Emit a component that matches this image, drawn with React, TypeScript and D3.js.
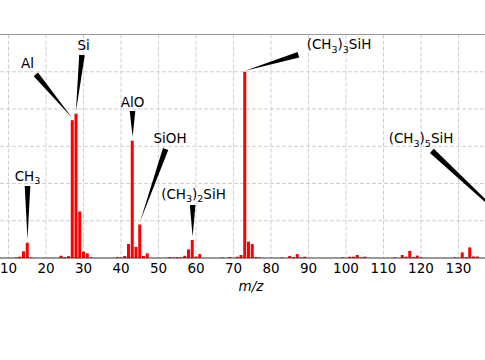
import React from 'react';
import * as d3 from 'd3';

const W = 485;
const H = 360;

// peaks: m/z and relative intensity (%)
const mz = [12, 13, 14, 15, 16, 24, 25, 26, 27, 28, 29, 30, 31, 32, 39, 40, 41, 42, 43, 44, 45, 46, 47,
  53, 54, 55, 56, 57, 58, 59, 60, 61, 67, 69, 71, 72, 73, 74, 75, 76, 77, 83, 85, 86, 87, 88, 89,
  99, 101, 102, 103, 104, 105, 113, 115, 116, 117, 118, 119, 120, 129, 131, 132, 133, 134, 135, 147];
const intensity = [0.3, 0.7, 3.6, 8.2, 0.3, 1.2, 0.5, 1.0, 74, 77.5, 25, 3.4, 2.5, 0.3, 0.5, 0.3, 1.1, 7.5, 63, 6, 18, 1.1, 2.5,
  0.5, 0.3, 0.5, 0.3, 1.2, 4.6, 9.7, 0.8, 2.1, 0.3, 0.5, 0.7, 1.6, 100, 8.8, 7.5, 0.5, 0.3, 0.3, 1.1, 0.5, 2.1, 0.3, 0.7,
  0.3, 0.7, 0.7, 1.6, 0.3, 0.7, 0.3, 1.6, 0.7, 3.8, 0.5, 1.3, 0.3, 0.3, 3.0, 0.5, 5.7, 0.8, 0.8, 11];

const xTicks = [10, 20, 30, 40, 50, 60, 70, 80, 90, 100, 110, 120, 130];
const yGrid = [20, 40, 60, 80, 100];

// annotations: label ("_n" = subscript), text pos, arrow tail, arrow tip (m/z, %)
const annLabels = ['CH_3', 'Al', 'Si', 'AlO', 'SiOH', '(CH_3)_2SiH', '(CH_3)_3SiH', '(CH_3)_5SiH'];
const annText = [[15.07, 41.6], [15.07, 102], [30.05, 111.7], [43.07, 81.3], [53.07, 61.6], [59.33, 31.7], [98.13, 112.1], [120, 61.6]];
const annTail = [[15.07, 38.7], [17.3, 98.6], [29.6, 109], [43.07, 78.9], [51.9, 58.5], [59.1, 28.5], [87.3, 109.1], [122.9, 57.5]];
const annTip = [[15.07, 9.8], [26.9, 75.5], [27.97, 78.5], [43.1, 65.1], [45.07, 19.5], [59.1, 11.4], [73.1, 100.5], [147, 12.3]];

const FONT = 'DejaVu Sans, sans-serif';

function Label({ s, x, y }: { s: string; x: number; y: number }) {
  const parts = s.split(/_(\d)/);
  const nodes: React.ReactNode[] = [];
  let shifted = false;
  parts.forEach((p, i) => {
    if (p === '') return;
    if (i % 2 === 1) {
      nodes.push(<tspan key={i} dy={shifted ? 0 : 3.5} fontSize={9.5}>{p}</tspan>);
      shifted = true;
    } else {
      nodes.push(<tspan key={i} dy={shifted ? -3.5 : 0}>{p}</tspan>);
      shifted = false;
    }
  });
  return (
    <text x={x} y={y} textAnchor="middle" fontSize={13.5} fontFamily={FONT} fill="#000">{nodes}</text>
  );
}

function wedge(tx: number, ty: number, px: number, py: number, hw: number) {
  const dx = px - tx, dy = py - ty;
  const len = Math.hypot(dx, dy);
  const nx = -dy / len * hw, ny = dx / len * hw;
  return `M${tx + nx},${ty + ny}L${tx - nx},${ty - ny}L${px},${py}Z`;
}

export default function App() {
  const x = d3.scaleLinear().domain([10, 130]).range([8.5, 458.5]);
  const y = d3.scaleLinear().domain([0, 120]).range([258, 34.5]);
  const barW = x(10.8) - x(10);

  return (
    <div style={{ position: 'absolute', top: 0, left: 0, width: W, height: H, background: '#fff' }}>
      <svg width={W} height={H} style={{ display: 'block' }}>
        <rect width={W} height={H} fill="#fff" />
        {/* grid */}
        {xTicks.map(t => (
          <line key={'gx' + t} x1={x(t)} x2={x(t)} y1={y(120)} y2={y(0)} stroke="#cfcfcf" strokeWidth={1} strokeDasharray="4,2" />
        ))}
        {yGrid.map(t => (
          <line key={'gy' + t} x1={0} x2={W} y1={y(t)} y2={y(t)} stroke="#cfcfcf" strokeWidth={1} strokeDasharray="4,2" />
        ))}
        {/* top spine */}
        <line x1={0} x2={W} y1={y(120)} y2={y(120)} stroke="#999" strokeWidth={1} />
        {/* bars */}
        {mz.map((m, i) => (
          <rect key={'b' + m} x={x(m) - barW / 2} y={y(intensity[i])} width={barW} height={y(0) - y(intensity[i])} fill="#ff0000" />
        ))}
        {/* bottom spine */}
        <line x1={0} x2={W} y1={y(0)} y2={y(0)} stroke="#333" strokeWidth={1} />
        {/* tick labels */}
        {xTicks.map(t => (
          <text key={'t' + t} x={x(t)} y={272.5} textAnchor="middle" fontSize={13.5} fontFamily={FONT} fill="#000">{t}</text>
        ))}
        <text x={251} y={291} textAnchor="middle" fontSize={13.5} fontFamily={FONT} fontStyle="italic" fill="#000">m/z</text>
        {/* annotations */}
        {annLabels.map((lab, i) => (
          <g key={'a' + i}>
            <path d={wedge(x(annTail[i][0]), y(annTail[i][1]), x(annTip[i][0]), y(annTip[i][1]), 2.8)} fill="#000" />
            <Label s={lab} x={x(annText[i][0])} y={y(annText[i][1])} />
          </g>
        ))}
      </svg>
    </div>
  );
}
